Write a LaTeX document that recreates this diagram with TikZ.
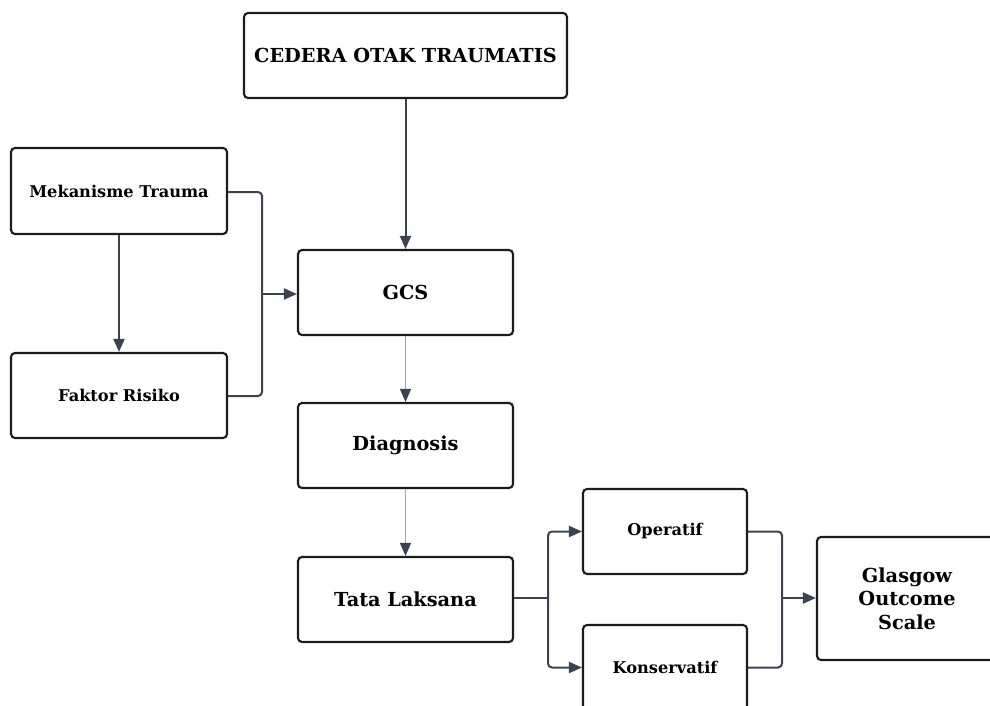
\documentclass[tikz,border=0pt]{standalone}
\usepackage{fontspec}
\setmainfont{DejaVu Serif}
\usetikzlibrary{arrows.meta}
\definecolor{edge}{HTML}{3B4350}
\definecolor{thin}{HTML}{A3A7AD}
\definecolor{boxline}{HTML}{1C1C1C}
\tikzset{
  box/.style={draw=boxline, line width=2.1pt, rounded corners=4pt, fill=white, align=center, font=\bfseries, inner sep=0pt},
  big/.style={font=\bfseries\fontsize{19.3}{23.3}\selectfont},
  small/.style={font=\bfseries\fontsize{16.2}{19}\selectfont},
  conn/.style={draw=edge, line width=2pt, rounded corners=4pt, -{Triangle[length=13pt,width=11pt]}},
  thinconn/.style={draw=thin, line width=1.4pt, -{Triangle[length=13pt,width=11pt,color=edge]}},
  plain/.style={draw=edge, line width=2pt, rounded corners=4pt},
}
\begin{document}
\begin{tikzpicture}[x=1pt,y=-1pt]
\path[use as bounding box, clip] (0,0) rectangle (990,706);
\node[box, big, minimum width=323pt, minimum height=85pt] (cot) at (405.5,55.5) {CEDERA OTAK TRAUMATIS};
\node[box, big, minimum width=215pt, minimum height=85pt] (gcs) at (405.5,292.5) {GCS};
\node[box, big, minimum width=215pt, minimum height=85pt] (diag) at (405.5,445.5) {Diagnosis};
\node[box, big, minimum width=215pt, minimum height=85pt] (tata) at (405.5,599.5) {Tata Laksana};
\node[box, small, minimum width=216pt, minimum height=86pt] (mek) at (119,191) {Mekanisme Trauma};
\node[box, small, minimum width=216pt, minimum height=85pt] (fak) at (119,395.5) {Faktor Risiko};
\node[box, small, minimum width=164pt, minimum height=85pt] (op) at (665,531.5) {Operatif};
\node[box, small, minimum width=164pt, minimum height=85pt] (kon) at (665,667.5) {Konservatif};
\node[box, big, minimum width=180pt, minimum height=123pt] (gos) at (907,598.5) {Glasgow\\Outcome\\Scale};

\coordinate (j1) at (262,294);
\coordinate (j2) at (548,598);
\coordinate (j3) at (782,598);

\draw[conn] (cot.south) -- (gcs.north);
\draw[conn] (mek.south) -- (fak.north);
\draw[plain] (mek.east |- 0,192) -| (j1);
\draw[plain] (fak.east |- 0,396) -| (j1);
\draw[conn] (j1) -- (gcs.west |- j1);
\draw[thinconn] (gcs.south) -- (diag.north);
\draw[thinconn] (diag.south) -- (tata.north);
\draw[plain] (tata.east |- j2) -- (j2);
\draw[conn] (j2) |- (op.west);
\draw[conn] (j2) |- (kon.west);
\draw[plain] (op.east) -| (j3);
\draw[plain] (kon.east) -| (j3);
\draw[conn] (j3) -- (gos.west |- j3);
\end{tikzpicture}
\end{document}
